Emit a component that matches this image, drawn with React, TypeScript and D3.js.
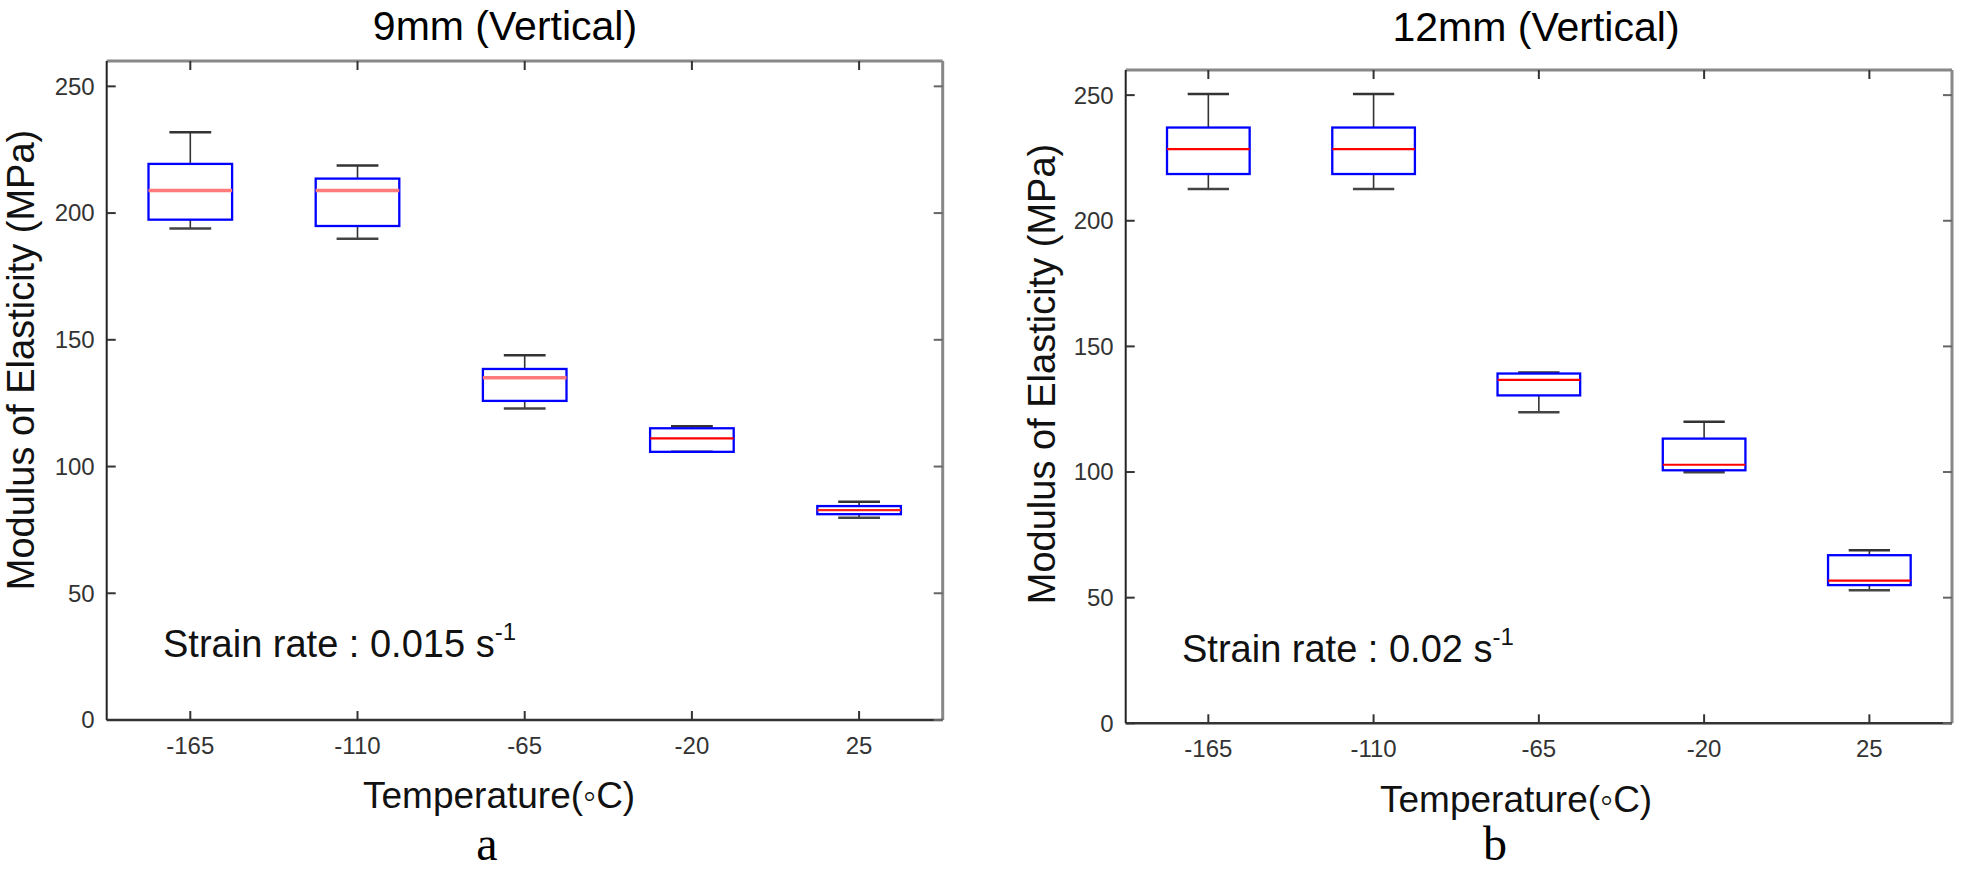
import React from "react";
import * as d3 from "d3";

const categories = ["-165", "-110", "-65", "-20", "25"];
const yTicks = [0, 50, 100, 150, 200, 250];

// 9mm (Vertical)
const leftLowWhisker = [193.9, 189.9, 122.9, 105.8, 79.8];
const leftQ1 = [197.4, 194.9, 125.9, 105.8, 81.2];
const leftMedian = [208.9, 208.9, 135.0, 111.1, 82.8];
const leftQ3 = [219.4, 213.6, 138.5, 115.1, 84.4];
const leftHighWhisker = [231.9, 218.8, 143.9, 115.9, 86.1];

// 12mm (Vertical)
const rightLowWhisker = [212.6, 212.6, 123.8, 99.9, 53.0];
const rightQ1 = [218.6, 218.6, 130.5, 100.7, 55.0];
const rightMedian = [228.5, 228.5, 136.7, 102.9, 56.8];
const rightQ3 = [237.1, 237.1, 139.2, 113.3, 66.9];
const rightHighWhisker = [250.4, 250.4, 139.6, 120.0, 68.9];

const leftMedianColors = ["#ff7a7a", "#ff7a7a", "#ff7a7a", "#ff0000", "#ff2020"];
const rightMedianColors = ["#ff0000", "#ff0000", "#ff0000", "#ff0000", "#ff0000"];

const SANS = "'Liberation Sans', Arial, Helvetica, sans-serif";
const SERIF = "'Liberation Serif', 'Times New Roman', serif";

type PanelProps = {
  left: number; right: number; top: number; bottom: number;
  title: string; titleX: number; titleY: number;
  lo: number[]; q1: number[]; med: number[]; q3: number[]; hi: number[];
  medColors: string[];
  rate: string; rateX: number; rateY: number;
  xlabelX: number; xlabelY: number; xTickY: number;
  ylabelX: number; ylabelY: number;
  letter: string; letterX: number; letterY: number;
};

function Panel(p: PanelProps) {
  const x = d3.scaleBand<string>().domain(categories).range([p.left, p.right]).padding(0);
  const y = d3.scaleLinear().domain([0, 260]).range([p.bottom, p.top]);
  const bw = x.bandwidth();
  const boxW = bw * 0.5;
  const capW = bw * 0.25;
  const tickLen = 9;
  return (
    <g>
      <text x={p.titleX} y={p.titleY} textAnchor="middle" fontFamily={SANS} fontSize={41} fill="#000">{p.title}</text>
      {/* frame */}
      <line x1={p.left} x2={p.right} y1={p.top} y2={p.top} stroke="#888" strokeWidth={3} />
      <line x1={p.right} x2={p.right} y1={p.top} y2={p.bottom} stroke="#888" strokeWidth={3} />
      <line x1={p.left} x2={p.left} y1={p.top} y2={p.bottom} stroke="#222" strokeWidth={2} />
      <line x1={p.left} x2={p.right} y1={p.bottom} y2={p.bottom} stroke="#333" strokeWidth={2.5} />
      {/* y ticks */}
      {yTicks.map((t) => (
        <g key={"y" + t}>
          <line x1={p.left} x2={p.left + tickLen} y1={y(t)} y2={y(t)} stroke="#333" strokeWidth={2} />
          <line x1={p.right - tickLen} x2={p.right} y1={y(t)} y2={y(t)} stroke="#666" strokeWidth={2} />
          <text x={p.left - 12} y={y(t)} dy="0.35em" textAnchor="end" fontFamily={SANS} fontSize={24} fill="#333">{t}</text>
        </g>
      ))}
      {/* x ticks */}
      {categories.map((c) => {
        const cx = (x(c) as number) + bw / 2;
        return (
          <g key={"x" + c}>
            <line x1={cx} x2={cx} y1={p.bottom} y2={p.bottom - tickLen} stroke="#333" strokeWidth={2} />
            <line x1={cx} x2={cx} y1={p.top} y2={p.top + tickLen} stroke="#333" strokeWidth={2} />
            <text x={cx} y={p.xTickY} textAnchor="middle" fontFamily={SANS} fontSize={24} fill="#333">{c}</text>
          </g>
        );
      })}
      {/* boxes */}
      {categories.map((c, i) => {
        const cx = (x(c) as number) + bw / 2;
        return (
          <g key={"b" + c}>
            <line x1={cx} x2={cx} y1={y(p.hi[i])} y2={y(p.q3[i])} stroke="#333" strokeWidth={1.6} />
            <line x1={cx} x2={cx} y1={y(p.q1[i])} y2={y(p.lo[i])} stroke="#333" strokeWidth={1.6} />
            <line x1={cx - capW / 2} x2={cx + capW / 2} y1={y(p.hi[i])} y2={y(p.hi[i])} stroke="#333" strokeWidth={2.5} />
            <line x1={cx - capW / 2} x2={cx + capW / 2} y1={y(p.lo[i])} y2={y(p.lo[i])} stroke="#444" strokeWidth={2.5} />
            <rect x={cx - boxW / 2} y={y(p.q3[i])} width={boxW} height={y(p.q1[i]) - y(p.q3[i])} fill="none" stroke="#0000ff" strokeWidth={2.3} />
            <line x1={cx - boxW / 2} x2={cx + boxW / 2} y1={y(p.med[i])} y2={y(p.med[i])} stroke={p.medColors[i]} strokeWidth={p.medColors[i] === "#ff7a7a" ? 3.5 : 2.2} />
          </g>
        );
      })}
      <text x={p.rateX} y={p.rateY} fontFamily={SANS} fontSize={38} fill="#111">
        {p.rate}
        <tspan fontSize={24} dy={-17}>-1</tspan>
      </text>
      <text x={p.xlabelX} y={p.xlabelY} fontFamily={SANS} fontSize={37} fill="#111">Temperature(◦C)</text>
      <text transform={`translate(${p.ylabelX},${p.ylabelY}) rotate(-90)`} textAnchor="middle" fontFamily={SANS} fontSize={38} fill="#111">Modulus of Elasticity (MPa)</text>
      <text x={p.letterX} y={p.letterY} textAnchor="middle" fontFamily={SERIF} fontSize={48} fill="#000">{p.letter}</text>
    </g>
  );
}

export default function App() {
  return (
    <div style={{ position: "absolute", left: 0, top: 0 }}>
      <svg width={1961} height={873} style={{ display: "block", background: "#fff" }}>
        <rect width={1961} height={873} fill="#fff" />
        <Panel left={106.7} right={942.7} top={61} bottom={720}
          title="9mm (Vertical)" titleX={505} titleY={40}
          lo={leftLowWhisker} q1={leftQ1} med={leftMedian} q3={leftQ3} hi={leftHighWhisker}
          medColors={leftMedianColors}
          rate="Strain rate : 0.015 s" rateX={163} rateY={657}
          xlabelX={363} xlabelY={808} xTickY={754}
          ylabelX={34} ylabelY={360}
          letter="a" letterX={487} letterY={860} />
        <Panel left={1125.7} right={1952} top={70} bottom={723.3}
          title="12mm (Vertical)" titleX={1536} titleY={41}
          lo={rightLowWhisker} q1={rightQ1} med={rightMedian} q3={rightQ3} hi={rightHighWhisker}
          medColors={rightMedianColors}
          rate="Strain rate : 0.02 s" rateX={1182} rateY={662}
          xlabelX={1380} xlabelY={812} xTickY={757}
          ylabelX={1055} ylabelY={374}
          letter="b" letterX={1495} letterY={860} />
      </svg>
    </div>
  );
}
